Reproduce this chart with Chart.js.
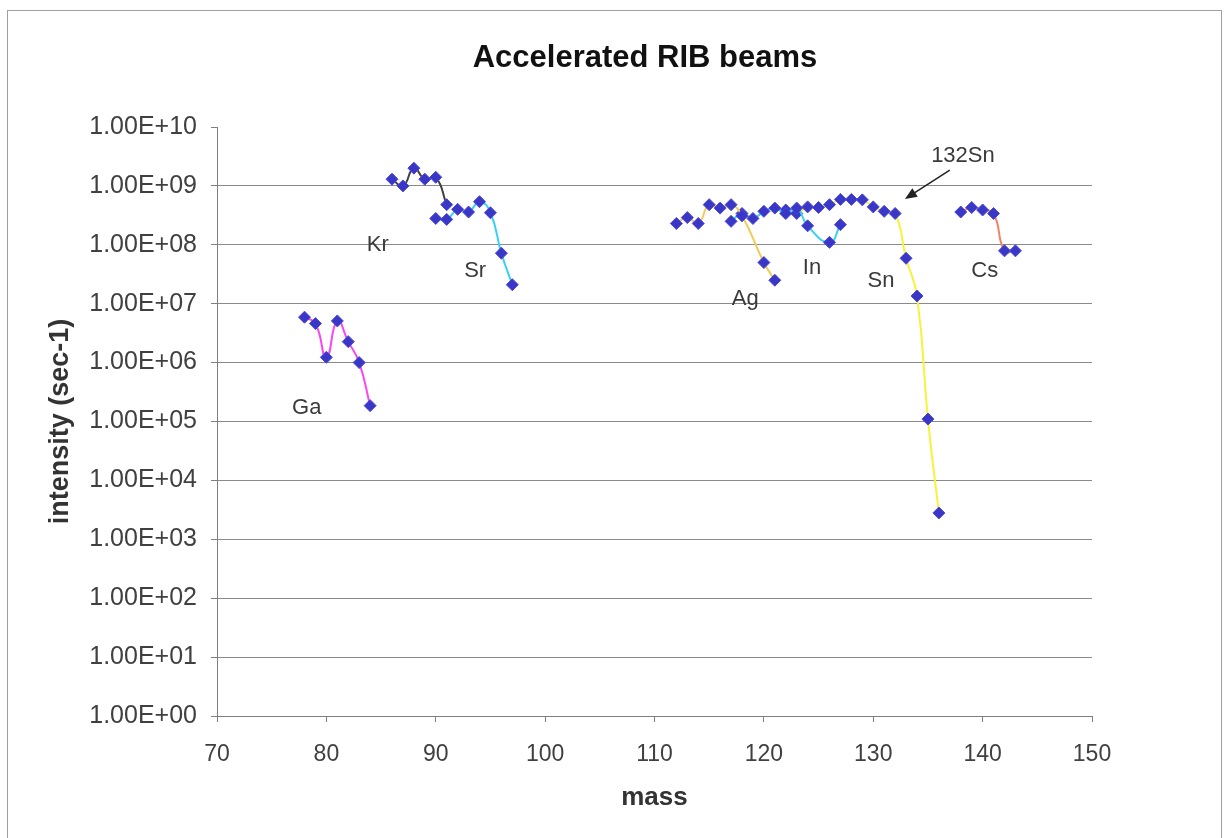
<!DOCTYPE html>
<html>
<head>
<meta charset="utf-8">
<script src="https://cdn.jsdelivr.net/npm/chart.js@4.4.0/dist/chart.umd.min.js"></script>
<style>
  html, body { margin: 0; padding: 0; background: #fff; }
  #frame { position: absolute; left: 7px; top: 10px; width: 1213px; height: 840px; border: 1px solid #a0a0a0; }
  #c { position: absolute; left: 0; top: 0; }
</style>
</head>
<body>
<div id="frame"></div>
<canvas id="c" width="1227" height="838"></canvas>
<script>
// data (mass number, beam intensity in 1/s)
const gaMass = [78, 79, 80, 81, 82, 83, 84];
const gaInt  = [5.9e6, 4.6e6, 1.23e6, 5.1e6, 2.27e6, 1.0e6, 1.86e5];

const krMass = [86, 87, 88, 89, 90, 91];
const krInt  = [1.3e9, 1.0e9, 2.0e9, 1.3e9, 1.4e9, 4.8e8];

const srMass = [90, 91, 92, 93, 94, 95, 96, 97];
const srInt  = [2.8e8, 2.7e8, 4.0e8, 3.6e8, 5.4e8, 3.5e8, 7.2e7, 2.1e7];

const agMass = [112, 113, 114, 115, 116, 117, 118, 120, 121];
const agInt  = [2.3e8, 2.9e8, 2.3e8, 4.8e8, 4.2e8, 4.8e8, 3.1e8, 5.0e7, 2.5e7];

const inMass = [117, 118, 119, 120, 121, 122, 123, 124, 126, 127];
const inInt  = [2.5e8, 3.4e8, 2.8e8, 3.7e8, 4.2e8, 3.4e8, 4.2e8, 2.1e8, 1.1e8, 2.2e8];

const snMass = [122, 123, 124, 125, 126, 127, 128, 129, 130, 131, 132, 133, 134, 135, 136];
const snInt  = [3.9e8, 3.4e8, 4.4e8, 4.3e8, 4.8e8, 5.9e8, 5.9e8, 5.8e8, 4.4e8, 3.7e8, 3.4e8, 5.9e7, 1.35e7, 1.1e5, 2.8e3];

const csMass = [138, 139, 140, 141, 142, 143];
const csInt  = [3.6e8, 4.3e8, 3.9e8, 3.4e8, 7.9e7, 7.9e7];

const yTickValues = [1e0, 1e1, 1e2, 1e3, 1e4, 1e5, 1e6, 1e7, 1e8, 1e9, 1e10];
const yTickLabels = ['1.00E+00', '1.00E+01', '1.00E+02', '1.00E+03', '1.00E+04', '1.00E+05',
                     '1.00E+06', '1.00E+07', '1.00E+08', '1.00E+09', '1.00E+10'];

// element labels, placed in data coordinates
const noteText = ['Ga', 'Kr', 'Sr', 'Ag', 'In', 'Sn', 'Cs', '132Sn'];
const noteMass = [78.2, 84.7, 93.6, 118.3, 124.4, 130.7, 140.2, 138.2];
const noteInt  = [1.7e5, 1.0e8, 3.6e7, 1.2e7, 4.1e7, 2.4e7, 3.6e7, 3.2e9];
const arrowFrom = [137.0, 1.86e9];
const arrowTo   = [132.9, 6.0e8];

const TITLE = 'Accelerated RIB beams';
const FONT = "'Liberation Sans', Arial, sans-serif";
const MARK = '#3a36c6';

function series(label, xs, ys, color) {
  return {
    label: label,
    data: xs.map((x, i) => ({x: x, y: ys[i]})),
    showLine: true,
    borderColor: color,
    borderWidth: 2,
    tension: 0.5,
    pointStyle: 'rectRot',
    pointRadius: 6,
    pointBackgroundColor: MARK,
    pointBorderColor: '#4a48d8',
    pointBorderWidth: 1
  };
}

const notes = {
  id: 'notes',
  afterDraw(chart) {
    const {ctx} = chart;
    ctx.save();
    ctx.font = 'bold 31px ' + FONT;
    ctx.fillStyle = '#111';
    ctx.textAlign = 'center';
    ctx.textBaseline = 'middle';
    ctx.fillText(TITLE, 645, 58);
    ctx.restore();
  },
  afterDatasetsDraw(chart) {
    const {ctx, scales: {x, y}} = chart;
    ctx.save();
    ctx.font = '22px ' + FONT;
    ctx.fillStyle = '#3a3a3a';
    ctx.textAlign = 'center';
    ctx.textBaseline = 'middle';
    noteText.forEach((t, i) => {
      ctx.fillText(t, x.getPixelForValue(noteMass[i]), y.getPixelForValue(noteInt[i]));
    });
    // arrow to 132Sn
    const x0 = x.getPixelForValue(arrowFrom[0]), y0 = y.getPixelForValue(arrowFrom[1]);
    const x1 = x.getPixelForValue(arrowTo[0]), y1 = y.getPixelForValue(arrowTo[1]);
    const a = Math.atan2(y1 - y0, x1 - x0);
    ctx.strokeStyle = '#222';
    ctx.fillStyle = '#222';
    ctx.lineWidth = 1.5;
    ctx.beginPath();
    ctx.moveTo(x0, y0);
    ctx.lineTo(x1 - 8 * Math.cos(a), y1 - 8 * Math.sin(a));
    ctx.stroke();
    ctx.beginPath();
    ctx.moveTo(x1, y1);
    ctx.lineTo(x1 - 12 * Math.cos(a) + 5 * Math.sin(a), y1 - 12 * Math.sin(a) - 5 * Math.cos(a));
    ctx.lineTo(x1 - 12 * Math.cos(a) - 5 * Math.sin(a), y1 - 12 * Math.sin(a) + 5 * Math.cos(a));
    ctx.closePath();
    ctx.fill();
    ctx.restore();
  }
};

new Chart(document.getElementById('c'), {
  type: 'scatter',
  data: {
    datasets: [
      series('Ga', gaMass, gaInt, '#f848f0'),
      series('Kr', krMass, krInt, '#404040'),
      series('Sr', srMass, srInt, '#38d0f8'),
      series('Ag', agMass, agInt, '#f2cc58'),
      series('In', inMass, inInt, '#38d0f8'),
      series('Sn', snMass, snInt, '#f4f43c'),
      series('Cs', csMass, csInt, '#f08466')
    ]
  },
  options: {
    responsive: false,
    animation: false,
    devicePixelRatio: 1,
    layout: {padding: {left: 0, right: 135, top: 127, bottom: 0}},
    plugins: {
      legend: {display: false},
      tooltip: {enabled: false},
      title: {display: false}
    },
    scales: {
      x: {
        type: 'linear',
        min: 70, max: 150,
        ticks: {stepSize: 10, color: '#404040', padding: 19, font: {family: FONT, size: 23}},
        grid: {drawOnChartArea: false, drawTicks: true, tickLength: 6, color: '#808080'},
        border: {display: true, color: '#808080'},
        title: {display: true, text: 'mass', color: '#333', font: {family: FONT, size: 26, weight: 'bold'},
                padding: {top: 0, bottom: 25}},
        afterFit(s) { s.height = 122; }
      },
      y: {
        type: 'logarithmic',
        min: 1, max: 1e10,
        afterBuildTicks(s) { s.ticks = yTickValues.map(v => ({value: v})); },
        ticks: {
          color: '#404040', padding: 14, font: {family: FONT, size: 25},
          callback: (v, i) => yTickLabels[i]
        },
        grid: {
          tickLength: 6,
          color: (c) => (c.tick && c.tick.value === 1e10) ? 'rgba(0,0,0,0)' : '#8a8a8a',
          tickColor: '#808080'
        },
        border: {display: true, color: '#808080'},
        title: {display: true, text: 'intensity (sec-1)', color: '#333', font: {family: FONT, size: 27, weight: 'bold'},
                padding: {top: 44, bottom: 0}},
        afterFit(s) { s.width = 217; }
      }
    }
  },
  plugins: [notes]
});
</script>
</body>
</html>
